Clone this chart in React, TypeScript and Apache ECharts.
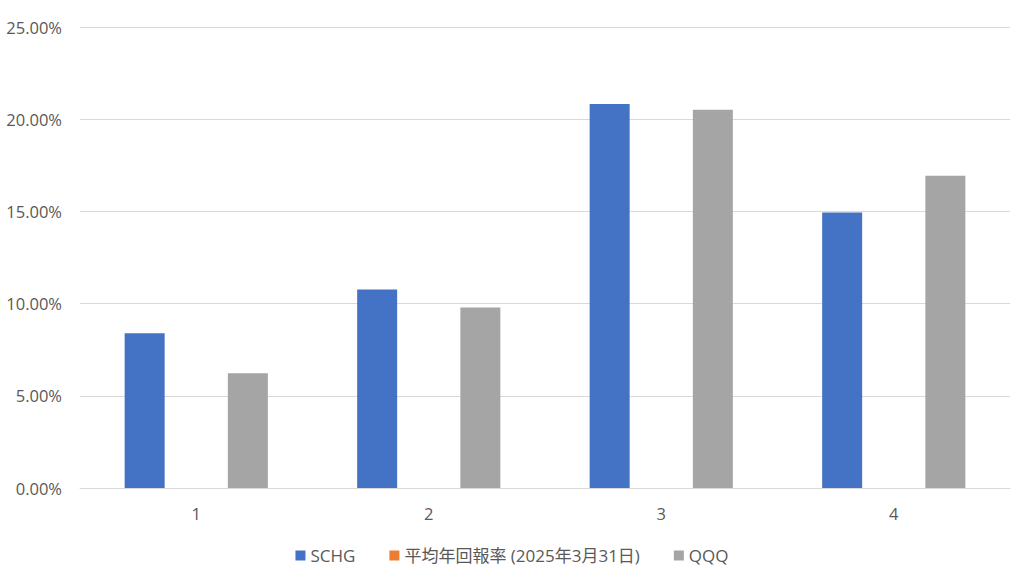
import React, { useEffect, useRef } from "react";
import * as echarts from "echarts";

const categories = ["1", "2", "3", "4"];
const schgValues = [0.0839, 0.1077, 0.2083, 0.1494];
const avgValues: (number | null)[] = [null, null, null, null];
const qqqValues = [0.0622, 0.0979, 0.2051, 0.1694];
const seriesNames = ["SCHG", "平均年回報率 (2025年3月31日)", "QQQ"];
const colors = ["#4472C4", "#ED7D31", "#A5A5A5"];

const FONT = "'Open Sans', 'Noto Sans CJK JP', sans-serif";

export default function App() {
  const ref = useRef<HTMLDivElement>(null);
  useEffect(() => {
    if (!ref.current) return;
    const chart = echarts.init(ref.current, undefined, { renderer: "svg" });
    const mk = (i: number, data: (number | null)[]) => ({
      name: seriesNames[i],
      type: "bar" as const,
      data,
      barWidth: 40,
      barGap: "29%",
      itemStyle: { color: colors[i] },
    });
    chart.setOption({
      animation: false,
      backgroundColor: "#ffffff",
      textStyle: { fontFamily: FONT },
      grid: { left: 80, right: 14, top: 27, bottom: 90, containLabel: false },
      legend: {
        bottom: 9,
        left: "center",
        itemWidth: 10,
        itemHeight: 10,
        itemGap: 34,
        icon: "rect",
        textStyle: { color: "#595959", fontSize: 17, fontFamily: FONT },
        data: seriesNames,
      },
      xAxis: {
        type: "category",
        data: categories,
        axisTick: { show: false },
        axisLine: { lineStyle: { color: "#d9d9d9", width: 1 } },
        axisLabel: { color: "#595959", fontSize: 16.5, margin: 17, fontFamily: FONT },
      },
      yAxis: {
        type: "value",
        min: 0,
        max: 0.25,
        interval: 0.05,
        axisLine: { show: false },
        axisTick: { show: false },
        splitLine: { lineStyle: { color: "#d9d9d9", width: 1 } },
        axisLabel: {
          color: "#595959",
          fontSize: 16.5,
          margin: 18,
          fontFamily: FONT,
          formatter: (v: number) => (v * 100).toFixed(2) + "%",
        },
      },
      series: [mk(0, schgValues), mk(1, avgValues), mk(2, qqqValues)],
    });
    return () => chart.dispose();
  }, []);
  return <div ref={ref} style={{ width: 1024, height: 578, position: "absolute", left: 0, top: 0 }} />;
}
